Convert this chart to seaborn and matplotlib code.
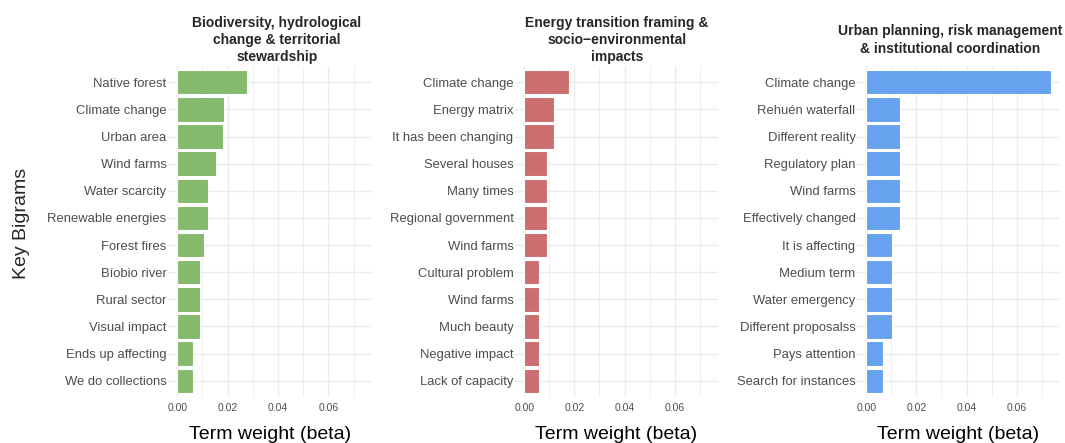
import pandas as pd
import matplotlib
matplotlib.use('Agg')
import matplotlib.pyplot as plt
import seaborn as sns
from matplotlib.ticker import MultipleLocator

# ---- data ----
titles = [
    "Biodiversity, hydrological\nchange & territorial\nstewardship",
    "Energy transition framing &\nsocio\u2212environmental\nimpacts",
    "Urban planning, risk management\n& institutional coordination",
]

terms_bio = ["Native forest", "Climate change", "Urban area", "Wind farms",
             "Water scarcity", "Renewable energies", "Forest fires", "Bíobio river",
             "Rural sector", "Visual impact", "Ends up affecting", "We do collections"]
beta_bio = [0.0275, 0.0187, 0.0183, 0.0153, 0.0123, 0.0123, 0.0105, 0.0092,
            0.0092, 0.0092, 0.0061, 0.0061]

terms_energy = ["Climate change", "Energy matrix", "It has been changing", "Several houses",
                "Many times", "Regional government", "Wind farms", "Cultural problem",
                "Wind farms", "Much beauty", "Negative impact", "Lack of capacity"]
beta_energy = [0.0177, 0.0119, 0.0119, 0.0089, 0.0089, 0.0089, 0.0089, 0.0060,
               0.0060, 0.0060, 0.0060, 0.0060]

terms_urban = ["Climate change", "Rehuén waterfall", "Different reality", "Regulatory plan",
               "Wind farms", "Effectively changed", "It is affecting", "Medium term",
               "Water emergency", "Different proposalss", "Pays attention", "Search for instances"]
beta_urban = [0.0736, 0.0136, 0.0136, 0.0136, 0.0136, 0.0136, 0.0103, 0.0103,
              0.0103, 0.0103, 0.0068, 0.0068]

colors = ["#84BA6C", "#CC6D6F", "#67A2EF"]

panels = [(terms_bio, beta_bio), (terms_energy, beta_energy), (terms_urban, beta_urban)]

sns.set_theme(style="white")
plt.rcParams['font.family'] = ['Liberation Sans', 'DejaVu Sans']

fig = plt.figure(figsize=(10.65, 4.43), dpi=100)
W, H = 1065, 443

# panel boxes in pixels (left, right), shared top/bottom
panel_x = [(168, 372), (515, 718), (857, 1060)]
top_px, bot_px = 66, 397
title_x = [277, 617, 950]

xmax = max(max(b) for _, b in panels)
pad = 0.05 * xmax

for i, ((terms, betas), (x0, x1)) in enumerate(zip(panels, panel_x)):
    ax = fig.add_axes([x0 / W, 1 - bot_px / H, (x1 - x0) / W, (bot_px - top_px) / H])
    df = pd.DataFrame({"rank": list(range(len(terms))), "beta": betas})
    sns.barplot(data=df, x="beta", y="rank", orient="h", color=colors[i],
                width=0.9, edgecolor="white", linewidth=0.8, saturation=1, ax=ax)
    ax.set_yticks(range(len(terms)))
    ax.set_yticklabels(terms)
    ax.set_ylim(len(terms) - 0.4, -0.6)
    ax.set_xlim(-pad, xmax + pad)
    ax.xaxis.set_minor_locator(MultipleLocator(0.01))
    ax.set_xticks([0.0, 0.02, 0.04, 0.06])
    ax.set_xticklabels(["0.00", "0.02", "0.04", "0.06"])
    ax.grid(True, which="major", color="#EBEBEB", linewidth=1.0)
    ax.grid(True, which="minor", axis="x", color="#EBEBEB", linewidth=0.6)
    ax.set_axisbelow(True)
    for s in ax.spines.values():
        s.set_visible(False)
    ax.tick_params(axis="y", length=0, pad=1, labelsize=9.4, labelcolor="#4D4D4D")
    ax.tick_params(axis="x", which="both", length=0, pad=4, labelsize=7.5, labelcolor="#4D4D4D")
    ax.set_ylabel("")
    ax.set_xlabel("Term weight (beta)", fontsize=14, color="black", labelpad=10)
    fig.text(title_x[i] / W, 1 - 40 / H, titles[i], ha="center", va="center",
             multialignment="center", fontsize=10, fontweight="bold", linespacing=1.3)

fig.text(22 / W, 1 - 223 / H, "Key Bigrams", rotation=90, ha="center", va="center", fontsize=14)

fig.savefig("out.png", dpi=100)
